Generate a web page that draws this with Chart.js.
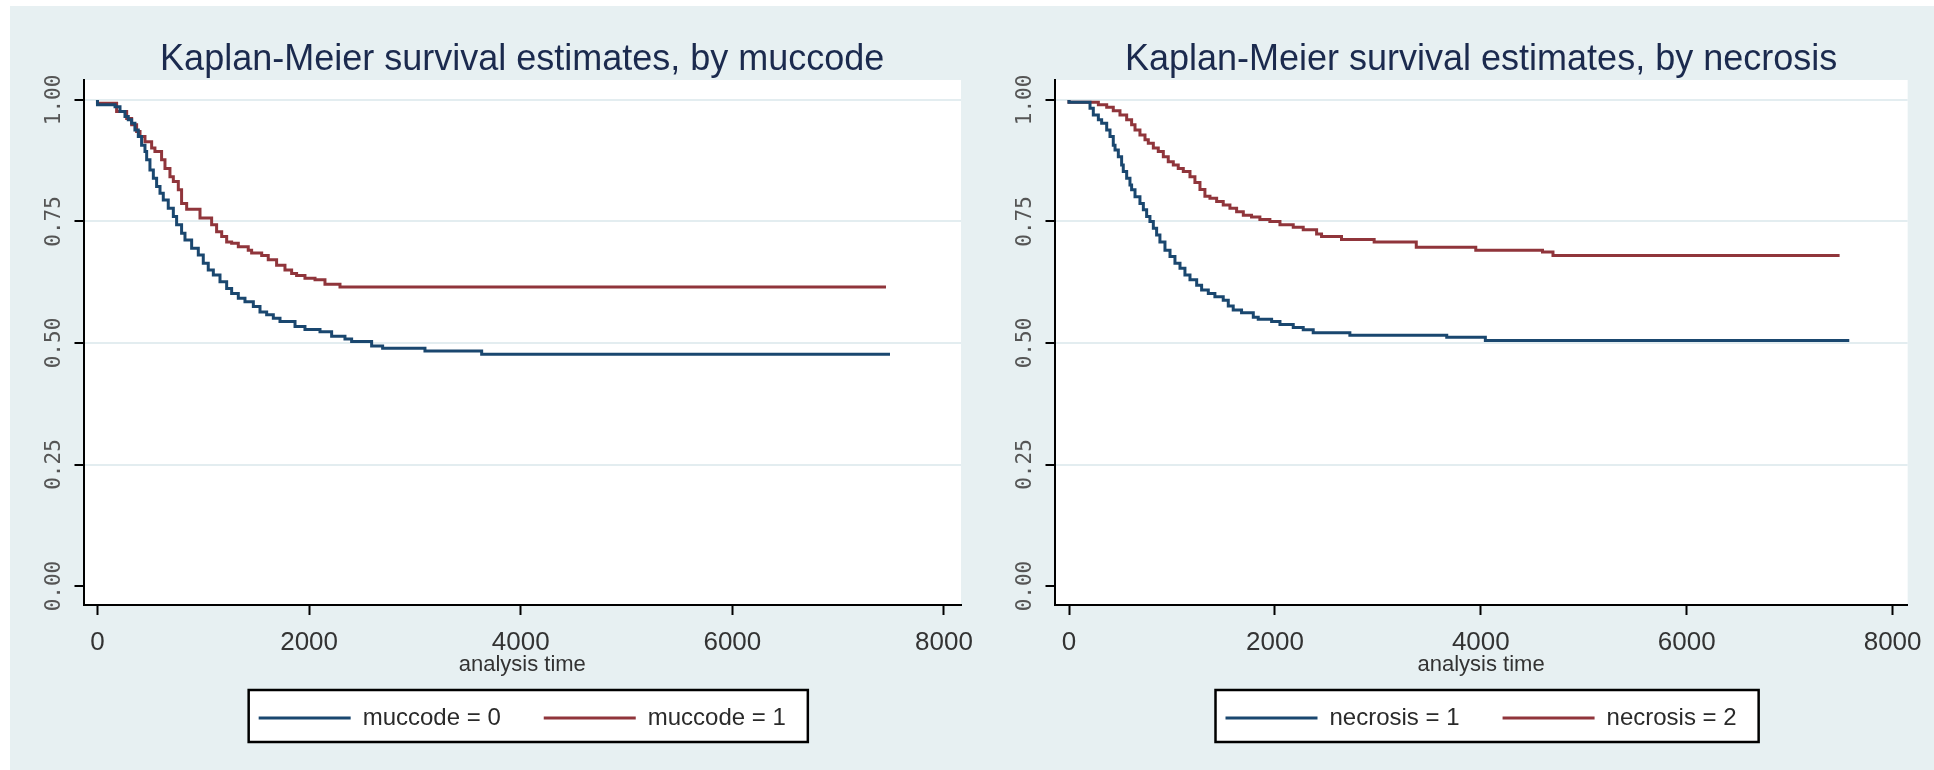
<!DOCTYPE html>
<html>
<head>
<meta charset="utf-8">
<script src="https://cdn.jsdelivr.net/npm/chart.js@4.4.0/dist/chart.umd.min.js"></script>
<style>
html, body { margin: 0; padding: 0; background: #ffffff; }
#frame { position: absolute; left: 10px; top: 6px; width: 1924px; height: 764px; background: #e7f0f2; }
canvas { position: absolute; top: 0; }
#km-muccode { left: 0; }
#km-necrosis { left: 967px; }
</style>
</head>
<body>
<div id="frame"></div>
<canvas id="km-muccode" width="1000" height="770"></canvas>
<canvas id="km-necrosis" width="967" height="770"></canvas>
<script>
// axes
const xTicks = [0, 2000, 4000, 6000, 8000]
const xTickLabels = ['0', '2000', '4000', '6000', '8000']
const yTicks = [0, 0.25, 0.5, 0.75, 1]
const yTickLabels = ['0.00', '0.25', '0.50', '0.75', '1.00']
const xTitle = 'analysis time'

// panel 1 : muccode
const mucTitle = 'Kaplan-Meier survival estimates, by muccode'
const mucLabels = ['muccode = 0', 'muccode = 1']
const mucTime0 = [0, 166, 213, 260, 291, 323, 354, 386, 417, 449, 465, 496, 528, 559, 591, 622, 669, 717, 748, 795, 827, 890, 953, 1000, 1047, 1095, 1158, 1221, 1268, 1331, 1394, 1473, 1536, 1599, 1662, 1725, 1867, 1961, 2103, 2213, 2339, 2402, 2591, 2695, 3095, 3631, 5537, 7490]
const mucSurv0 = [1, 0.990, 0.986, 0.976, 0.966, 0.959, 0.952, 0.938, 0.925, 0.907, 0.894, 0.877, 0.856, 0.839, 0.822, 0.808, 0.794, 0.777, 0.760, 0.743, 0.726, 0.712, 0.695, 0.681, 0.664, 0.650, 0.640, 0.626, 0.612, 0.602, 0.592, 0.585, 0.575, 0.564, 0.558, 0.551, 0.544, 0.534, 0.528, 0.523, 0.514, 0.508, 0.503, 0.494, 0.489, 0.4835, 0.477, 0.477]
const mucTime1 = [0, 181, 276, 323, 370, 402, 449, 512, 543, 606, 638, 685, 717, 764, 795, 843, 969, 1079, 1126, 1174, 1221, 1268, 1331, 1425, 1457, 1552, 1614, 1693, 1772, 1835, 1882, 1961, 2056, 2150, 2292, 2717, 7452]
const mucSurv1 = [1, 0.993, 0.976, 0.962, 0.949, 0.935, 0.925, 0.914, 0.901, 0.894, 0.877, 0.859, 0.842, 0.832, 0.815, 0.787, 0.775, 0.757, 0.743, 0.729, 0.719, 0.708, 0.705, 0.698, 0.691, 0.685, 0.680, 0.671, 0.660, 0.650, 0.643, 0.639, 0.633, 0.630, 0.621, 0.615, 0.615]

// panel 2 : necrosis
const necTitle = 'Kaplan-Meier survival estimates, by necrosis'
const necLabels = ['necrosis = 1', 'necrosis = 2']
const necTime1 = [0, 204, 236, 285, 317, 366, 398, 430, 447, 479, 511, 527, 560, 592, 608, 641, 689, 722, 754, 786, 819, 851, 883, 932, 981, 1029, 1078, 1126, 1175, 1240, 1288, 1353, 1417, 1498, 1547, 1595, 1676, 1790, 1838, 1968, 2049, 2178, 2275, 2372, 2728, 3669, 4044, 4530, 7579]
const necSurv1 = [1, 0.995, 0.983, 0.969, 0.959, 0.952, 0.938, 0.925, 0.907, 0.897, 0.883, 0.866, 0.853, 0.839, 0.825, 0.815, 0.801, 0.787, 0.774, 0.760, 0.750, 0.736, 0.722, 0.708, 0.691, 0.678, 0.664, 0.654, 0.640, 0.630, 0.619, 0.609, 0.602, 0.595, 0.588, 0.576, 0.568, 0.562, 0.553, 0.549, 0.544, 0.538, 0.532, 0.527, 0.521, 0.516, 0.512, 0.505, 0.505]
const necTime2 = [0, 285, 366, 430, 495, 560, 608, 641, 689, 738, 770, 819, 867, 916, 964, 1013, 1061, 1110, 1175, 1223, 1272, 1320, 1369, 1434, 1498, 1563, 1628, 1693, 1773, 1854, 1951, 2049, 2178, 2275, 2405, 2453, 2647, 2964, 3373, 3951, 4599, 4701, 4922, 7485]
const necSurv2 = [1, 0.995, 0.990, 0.985, 0.978, 0.969, 0.959, 0.949, 0.938, 0.928, 0.918, 0.911, 0.901, 0.894, 0.883, 0.873, 0.866, 0.859, 0.853, 0.842, 0.830, 0.816, 0.802, 0.798, 0.791, 0.784, 0.777, 0.770, 0.763, 0.759, 0.754, 0.750, 0.743, 0.738, 0.733, 0.724, 0.719, 0.713, 0.708, 0.697, 0.691, 0.687, 0.680, 0.680]

const lineColors = ['#1a476f', '#90353b']
const sans = "'Liberation Sans', Arial, sans-serif"

Chart.defaults.font.family = sans

// white plot region + framed legend, painted before the library draws its boxes
const plotFrame = {
    id: 'plotFrame',
    beforeDraw(chart) {
        const {ctx, chartArea} = chart
        ctx.save()
        ctx.fillStyle = '#ffffff'
        ctx.fillRect(chartArea.left, chartArea.top, chartArea.right - chartArea.left, chartArea.bottom - chartArea.top)
        const boxes = chart.legend.legendHitBoxes
        if (boxes && boxes.length) {
            const first = boxes[0]
            const last = boxes[boxes.length - 1]
            const cy = first.top + first.height / 2
            const x0 = first.left - 10
            const x1 = last.left + last.width + 22
            ctx.fillRect(x0, cy - 28, x1 - x0, 52)
            ctx.strokeStyle = '#000000'
            ctx.lineWidth = 2.5
            ctx.strokeRect(x0, cy - 28, x1 - x0, 52)
        }
        ctx.restore()
    }
}

function drawPanel(id, title, labels, times, survs, xMin, xMax, padLeft, padRight) {
    const context = document.getElementById(id).getContext('2d')
    return new Chart(context, {
        type: 'line',
        data: {
            datasets: [0, 1].map(i => ({
                label: labels[i],
                data: times[i].map((t, k) => ({x: t, y: survs[i][k]})),
                borderColor: lineColors[i],
                backgroundColor: lineColors[i],
                borderWidth: 3,
                pointRadius: 0,
                stepped: 'after',
                fill: false
            }))
        },
        options: {
            responsive: false,
            animation: false,
            layout: {padding: {left: padLeft, right: padRight, top: 0, bottom: 30}},
            plugins: {
                title: {
                    display: true,
                    fullSize: false,
                    text: title,
                    color: '#1b2a4e',
                    font: {family: sans, size: 36, weight: 'normal', lineHeight: 1},
                    padding: {top: 42, bottom: 2}
                },
                legend: {
                    position: 'bottom',
                    fullSize: false,
                    labels: {
                        usePointStyle: true,
                        pointStyle: 'line',
                        pointStyleWidth: 92,
                        padding: 43,
                        color: '#2a2a2a',
                        font: {family: sans, size: 24}
                    }
                },
                tooltip: {enabled: false}
            },
            scales: {
                x: {
                    type: 'linear',
                    min: xMin,
                    max: xMax,
                    afterBuildTicks: s => { s.ticks = xTicks.map(v => ({value: v})) },
                    afterFit: s => { s.height = 58 },
                    border: {color: '#000000', width: 2},
                    grid: {drawOnChartArea: false, tickColor: '#000000', tickLength: 10, tickWidth: 2},
                    ticks: {
                        minRotation: 0, maxRotation: 0, padding: 12,
                        color: '#333333',
                        font: {family: sans, size: 26},
                        callback: (v, i) => xTickLabels[i]
                    },
                    title: {
                        display: true,
                        text: xTitle,
                        color: '#333333',
                        font: {family: sans, size: 22},
                        padding: {top: 0, bottom: -15}
                    }
                },
                y: {
                    min: -0.039,
                    max: 1.041,
                    afterBuildTicks: s => { s.ticks = yTicks.map(v => ({value: v})) },
                    afterFit: s => { s.width = 60 },
                    border: {color: '#000000', width: 2},
                    grid: {
                        color: c => (c.tick && c.tick.value === 0) ? 'rgba(0,0,0,0)' : '#e3edf0',
                        lineWidth: 2,
                        tickColor: '#000000',
                        tickLength: 9,
                        tickWidth: 2
                    },
                    ticks: {
                        minRotation: 90, maxRotation: 90,
                        crossAlign: 'center',
                        padding: -5,
                        color: '#555555',
                        font: {family: "'DejaVu Sans Mono', monospace", size: 21},
                        callback: (v, i) => yTickLabels[i]
                    }
                }
            }
        },
        plugins: [plotFrame]
    })
}

drawPanel('km-muccode', mucTitle, mucLabels, [mucTime0, mucTime1], [mucSurv0, mucSurv1], -132, 8161, 23.5, 39)
drawPanel('km-necrosis', necTitle, necLabels, [necTime1, necTime2], [necSurv1, necSurv2], -141, 8146, 27.5, 26)
</script>
</body>
</html>
